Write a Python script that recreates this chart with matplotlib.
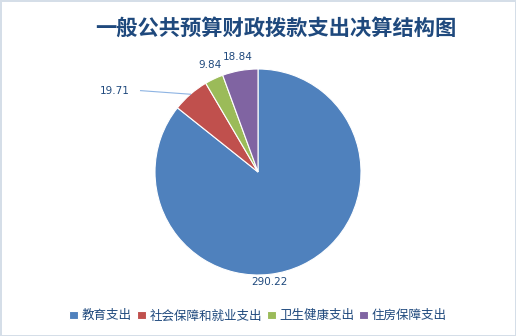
import matplotlib.pyplot as plt
import numpy as np

plt.rcParams['font.family'] = ['Noto Sans CJK SC', 'DejaVu Sans']

categories = ['教育支出', '社会保障和就业支出', '卫生健康支出', '住房保障支出']
values = [290.22, 19.71, 9.84, 18.84]
colors = ['#4F81BD', '#C0504D', '#9BBB59', '#8064A2']
# label text positions (data units, pie radius = 1)
label_pos = [(0.107, -1.07), (-1.39, 0.79), (-0.47, 1.04), (-0.20, 1.12)]

text_color = '#1F497D'
R_PX = 103.0
W, H = 516, 336
cx, cy = 258, 172

fig = plt.figure(figsize=(W / 100, H / 100), dpi=100)
fig.patch.set_facecolor('white')
fig.patch.set_edgecolor('#D5DEE8')
fig.patch.set_linewidth(2)

ax = fig.add_axes([0, 0, 1, 1])

wedges, _ = ax.pie(values, colors=colors, startangle=90, counterclock=False,
                   radius=1.0, center=(0, 0), frame=True,
                   wedgeprops=dict(edgecolor='white', linewidth=0.8))
ax.set_xlim(-cx / R_PX, (W - cx) / R_PX)
ax.set_ylim(-(H - cy) / R_PX, cy / R_PX)
ax.axis('off')

for w, v, (lx, ly) in zip(wedges, values, label_pos):
    ax.text(lx, ly, f'{v:.2f}', color=text_color, fontsize=7.5,
            ha='center', va='center', family=['DejaVu Sans'])

# leader line for the red wedge
w = wedges[1]
mid = np.deg2rad((w.theta1 + w.theta2) / 2)
ax.plot([label_pos[1][0] + 0.25, np.cos(mid)], [label_pos[1][1], np.sin(mid)],
        color='#8EB4E3', linewidth=0.8)

fig.text(0.535, 0.915, '一般公共预算财政拨款支出决算结构图', ha='center', va='center',
         fontsize=15.3, fontweight='bold', color=text_color)

leg = fig.legend(wedges, categories, loc='center', bbox_to_anchor=(0.5, 0.06),
                 ncol=4, frameon=False, fontsize=9, handlelength=0.7, handleheight=0.7,
                 handletextpad=0.3, columnspacing=0.4, borderpad=0)
for t in leg.get_texts():
    t.set_color(text_color)

fig.savefig('out.png', dpi=100)
